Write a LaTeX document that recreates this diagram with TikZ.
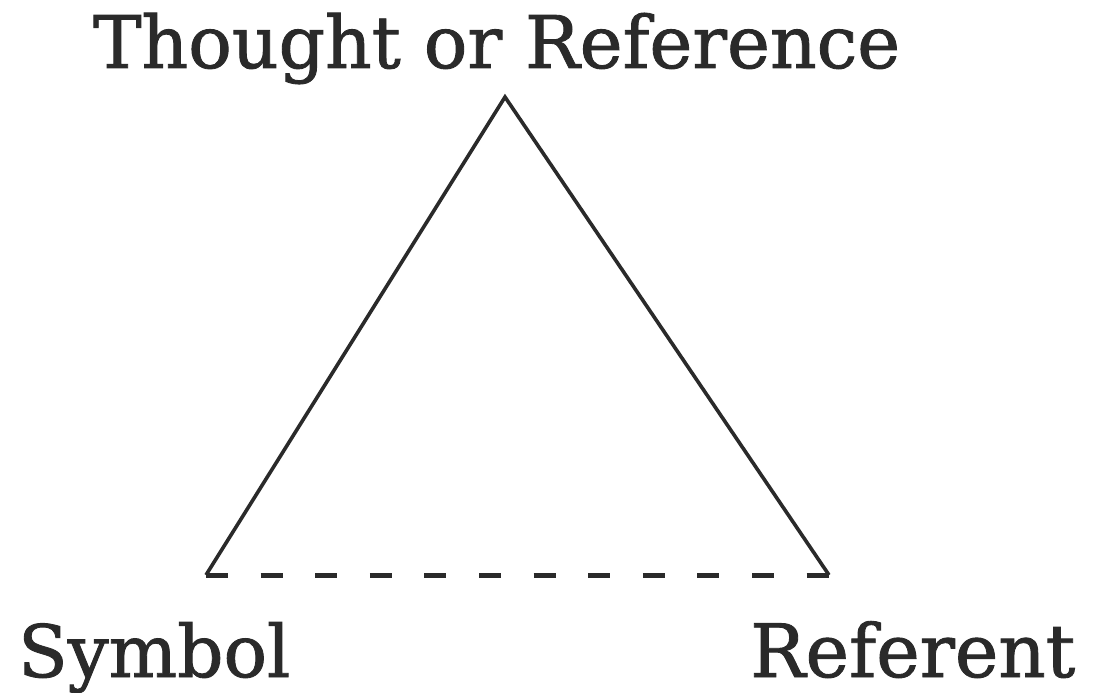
\documentclass[tikz,border=0pt]{standalone}
\usepackage{fontspec}
\setmainfont{DejaVu Serif}[FakeBold=1.2]
\usepackage{graphicx}
\definecolor{ink}{HTML}{2A2A2A}
\tikzset{
  lbl/.style={anchor=base west, inner sep=0pt, text=ink},
  side/.style={draw=ink, line width=3.6pt, line join=miter},
  dashline/.style={draw=ink, line width=5pt, dash pattern=on 22pt off 32.6pt}
}
\begin{document}
\begin{tikzpicture}[x=1pt,y=-1pt]
\useasboundingbox[fill=white] (0,0) rectangle (1095,693);
\node[lbl] (thought) at (93,68) {\resizebox{807pt}{!}{Thought or Reference}};
\node[lbl] (symbol) at (18,677) {\resizebox{272pt}{!}{Symbol}};
\node[lbl] (referent) at (750,677) {\resizebox{325pt}{!}{Referent}};
\coordinate (apex) at (505,97);
\coordinate (sym) at (206,575);
\coordinate (ref) at (829,575);
\draw[side] (sym) -- (apex) -- (ref);
\draw[dashline] (sym) -- (ref);
\end{tikzpicture}
\end{document}
